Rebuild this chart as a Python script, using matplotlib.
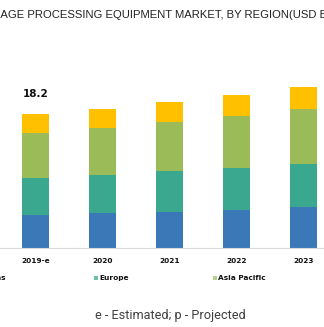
import matplotlib
matplotlib.use("Agg")
import matplotlib.pyplot as plt
from matplotlib.patches import Rectangle

years = ["2019-e", "2020", "2021", "2022", "2023"]
regions = ["Americas", "Europe", "Asia Pacific", "RoW"]
americas = [4.53, 4.80, 4.94, 5.21, 5.54]
europe = [5.03, 5.17, 5.58, 5.71, 5.89]
asia_pacific = [6.14, 6.39, 6.67, 7.07, 7.48]
row = [2.50, 2.54, 2.68, 2.82, 3.03]
total_2019 = 18.2

colors = ["#3A78B8", "#39A88F", "#9BBB59", "#FFC000"]
legend_colors = ["#7FA6D0", "#6FBFAE", "#BCCF92", "#FFD65A"]

W, H = 324, 327
fig = plt.figure(figsize=(W / 100, H / 100), dpi=100)
fig.patch.set_facecolor("white")


def fx(px):
    return px / W


def fy(py):
    return 1 - py / H


# axes laid out so the baseline sits 79 px above the bottom edge
px_per_unit = 7.35
ax = fig.add_axes([0, 79 / H, 1, 25 * px_per_unit / H])
x = list(range(len(years)))
ax.set_xlim(-35.5 / 67, -35.5 / 67 + W / 67)
ax.set_ylim(0, 25)

bottom = [0] * len(years)
for vals, c in zip([americas, europe, asia_pacific, row], colors):
    ax.bar(x, vals, width=0.40, bottom=bottom, color=c, edgecolor="none")
    bottom = [b + v for b, v in zip(bottom, vals)]

ax.annotate(f"{total_2019:.1f}", (x[0], total_2019), xytext=(0, 11),
            textcoords="offset points", ha="center", va="bottom",
            fontsize=7.5, fontweight="bold", color="#111111")

for s in ["top", "left", "right"]:
    ax.spines[s].set_visible(False)
ax.spines["bottom"].set_color("#D9D9D9")
ax.spines["bottom"].set_linewidth(0.8)
ax.set_yticks([])
ax.set_xticks(x)
ax.set_xticklabels(years, fontsize=5.3, fontweight="bold", color="#111111")
ax.tick_params(axis="x", length=0, pad=7)

# title, its left part runs off the canvas
title_font = dict(fontsize=8.1, color="#222222", family=["Liberation Sans", "DejaVu Sans"])
r = fig.canvas.get_renderer()
probe = fig.text(0, 0, "IM", **title_font)
off = probe.get_window_extent(renderer=r).width
probe.remove()
fig.text(fx(-off + 0.5), fy(15.3), "IMAGE PROCESSING EQUIPMENT MARKET, BY REGION(USD BILLION)",
         ha="left", va="center", **title_font)

# legend row
leg_y = 277.7
leg_x = [-36, 96, 215, 334]
for name, c, lx in zip(regions, legend_colors, leg_x):
    fig.patches.append(Rectangle((fx(lx - 2), fy(leg_y + 2.2)), 4.4 / W, 4.4 / H,
                                 transform=fig.transFigure, color=c, lw=0))
    fig.text(fx(lx + 3.5), fy(leg_y), name, ha="left", va="center",
             fontsize=5.3, fontweight="bold", color="#111111")

fig.text(fx(170), fy(315), "e - Estimated; p - Projected", ha="center", va="center",
         fontsize=9.2, color="#404040", family=["Roboto", "DejaVu Sans"])

fig.savefig("out.png", dpi=100)
